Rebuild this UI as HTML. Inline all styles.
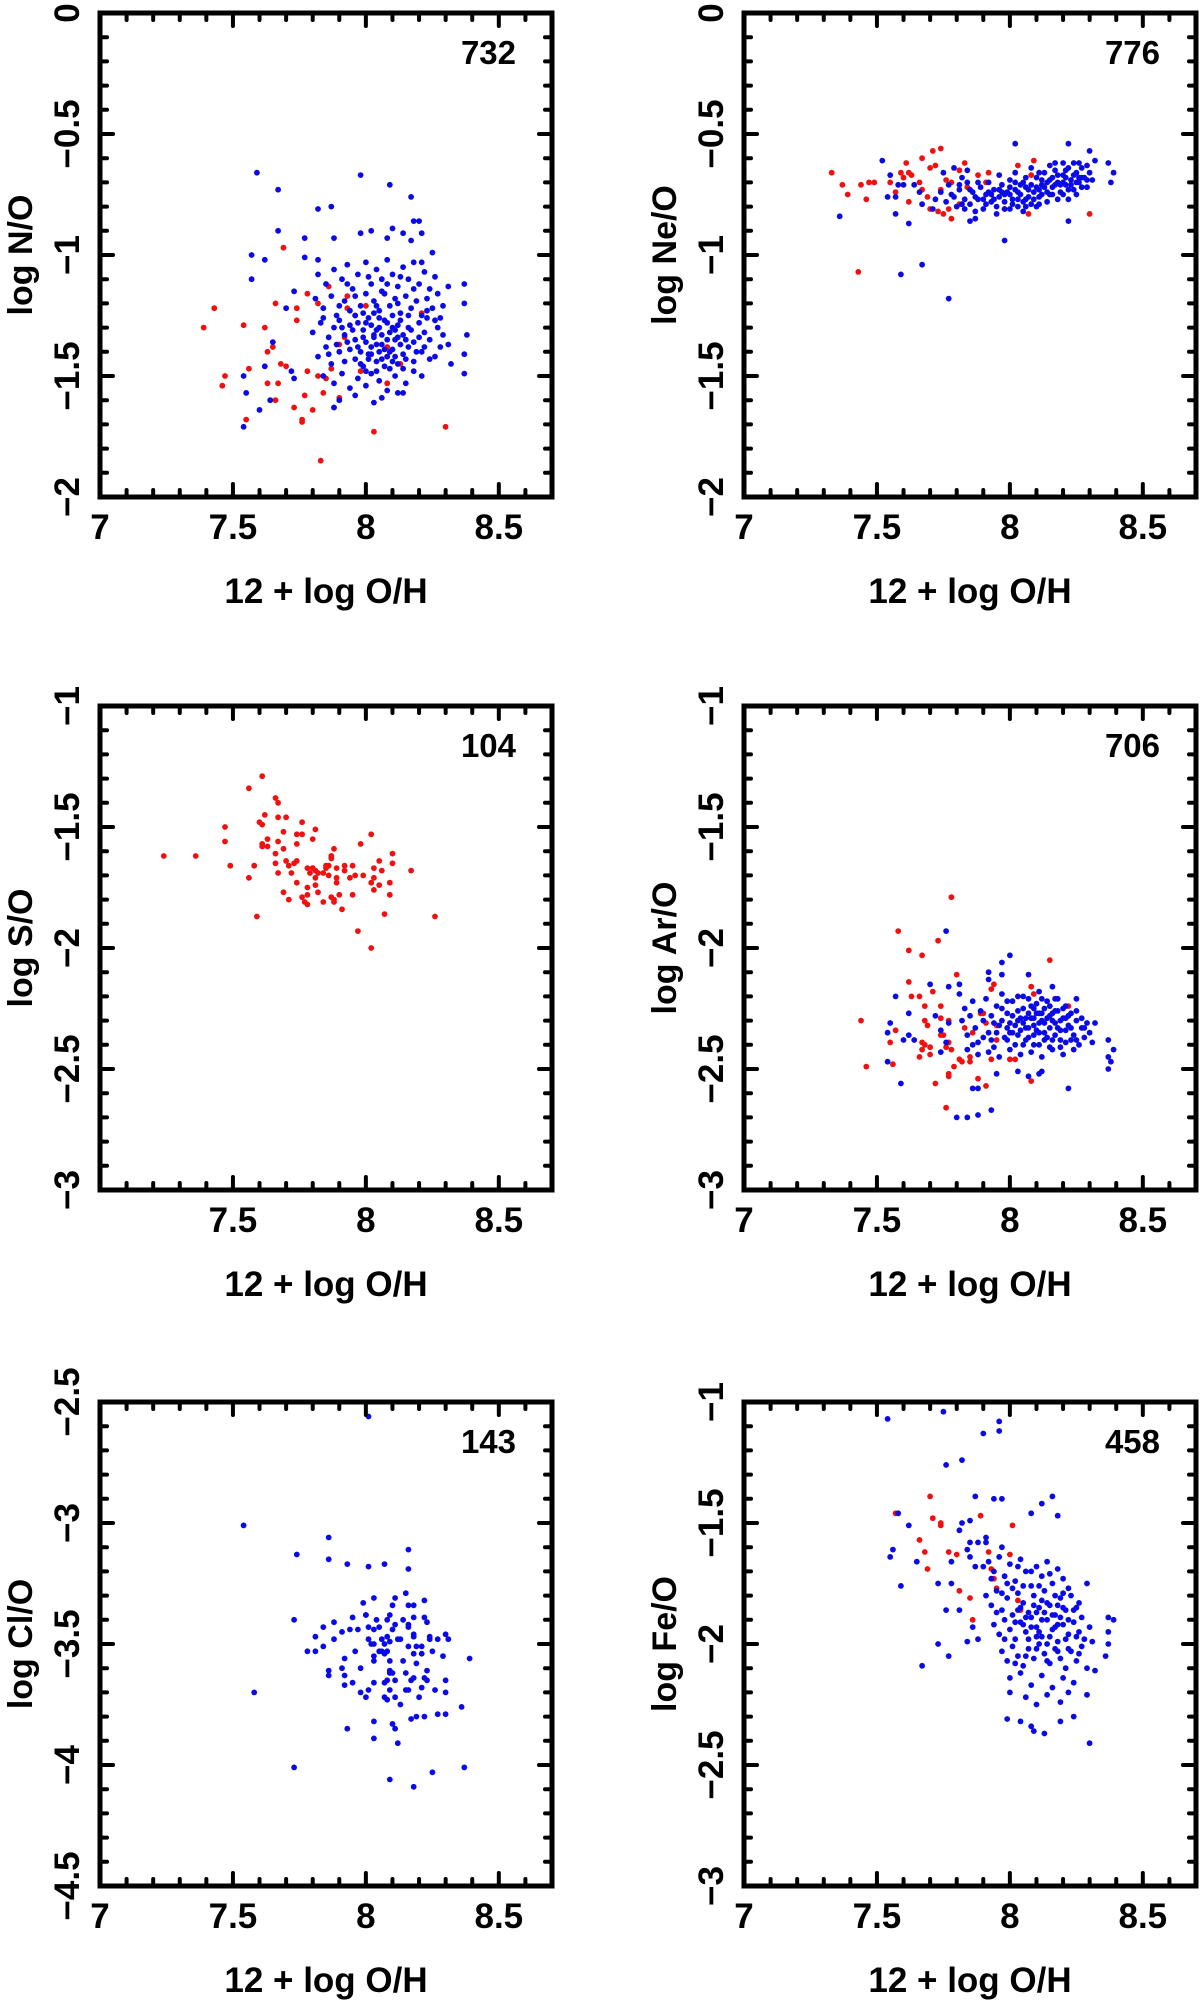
<!DOCTYPE html>
<html><head><meta charset="utf-8"><style>
html,body{margin:0;padding:0;background:#fff;width:1200px;height:2001px;overflow:hidden}
svg{display:block}
text{font-family:"Liberation Sans",Arial,sans-serif;font-weight:bold;fill:#000}
</style></head><body>
<svg id="fig" width="1200" height="2001" viewBox="0 0 1200 2001" xmlns="http://www.w3.org/2000/svg"></svg>
<script>
// ---- data (x = 12 + log O/H, y = log ratio) ----
const noBlue = [[7.59,-0.66],[7.67,-0.73],[7.98,-0.67],[8.09,-0.71],[8.17,-0.76],[7.82,-0.81],[7.87,-0.80],[7.67,-0.90],[7.77,-0.93],[7.88,-0.93],[7.57,-1.00],[7.62,-1.02],[7.57,-1.10],[7.77,-1.01],[7.82,-1.02],[7.98,-0.91],[8.02,-0.90],[8.10,-0.89],[8.18,-0.86],[8.20,-0.86],[8.21,-0.91],[8.25,-0.99],[8.08,-0.93],[8.14,-0.91],[8.17,-0.94],
[7.54,-1.50],[7.54,-1.71],[7.55,-1.57],[7.60,-1.64],[7.62,-1.46],[7.65,-1.36],[7.64,-1.60],[7.73,-1.51],[7.72,-1.48],[7.70,-1.22],[7.73,-1.15],[7.88,-1.63],[8.03,-1.61],[8.14,-1.57],[8.21,-1.50],[8.37,-1.49],[8.37,-1.41],[8.38,-1.33],[8.37,-1.12],[8.37,-1.20],[8.32,-1.45],[8.31,-1.37],[8.29,-1.21],[8.31,-1.13],[8.28,-1.26],
[7.82,-1.08],[7.85,-1.12],[7.88,-1.06],[7.91,-1.10],[7.93,-1.04],[7.95,-1.14],[7.97,-1.08],[8.00,-1.03],[8.02,-1.12],[8.04,-1.06],[8.06,-1.10],[8.08,-1.02],[8.10,-1.08],[8.12,-1.13],[8.14,-1.05],[8.16,-1.10],[8.18,-1.03],[8.20,-1.12],[8.22,-1.07],[8.24,-1.14],[8.26,-1.09],
[7.81,-1.18],[7.84,-1.22],[7.87,-1.17],[7.89,-1.25],[7.92,-1.19],[7.94,-1.23],[7.96,-1.17],[7.98,-1.21],[8.00,-1.16],[8.01,-1.26],[8.03,-1.19],[8.05,-1.23],[8.07,-1.16],[8.09,-1.21],[8.11,-1.18],[8.13,-1.24],[8.15,-1.17],[8.17,-1.22],[8.19,-1.19],[8.21,-1.25],[8.23,-1.18],[8.25,-1.22],[8.27,-1.16],
[7.80,-1.32],[7.83,-1.28],[7.86,-1.34],[7.88,-1.30],[7.90,-1.27],[7.92,-1.33],[7.94,-1.29],[7.96,-1.35],[7.97,-1.28],[7.99,-1.31],[8.00,-1.36],[8.02,-1.29],[8.03,-1.33],[8.05,-1.30],[8.06,-1.37],[8.08,-1.28],[8.09,-1.32],[8.11,-1.35],[8.12,-1.29],[8.14,-1.33],[8.16,-1.30],[8.18,-1.36],[8.20,-1.28],[8.22,-1.32],[8.24,-1.35],[8.27,-1.30],[8.29,-1.33],
[7.82,-1.42],[7.85,-1.38],[7.87,-1.45],[7.90,-1.40],[7.92,-1.44],[7.94,-1.39],[7.96,-1.43],[7.98,-1.40],[7.99,-1.46],[8.01,-1.41],[8.02,-1.38],[8.04,-1.44],[8.05,-1.40],[8.07,-1.46],[8.08,-1.42],[8.10,-1.39],[8.12,-1.45],[8.14,-1.41],[8.16,-1.38],[8.18,-1.44],[8.21,-1.40],[8.24,-1.43],
[7.84,-1.50],[7.88,-1.53],[7.91,-1.49],[7.94,-1.55],[7.97,-1.51],[8.00,-1.54],[8.02,-1.49],[8.05,-1.52],[8.08,-1.56],[8.11,-1.50],[8.15,-1.53],[7.90,-1.60],[7.96,-1.58],[8.06,-1.59],[8.12,-1.57],
[8.03,-1.34],[8.05,-1.26],[8.07,-1.39],[8.10,-1.25],[8.13,-1.37],[7.99,-1.24],[8.01,-1.43],[8.09,-1.47],[8.04,-1.37],[8.11,-1.31],
[7.95,-1.31],[7.97,-1.38],[7.99,-1.34],[8.00,-1.28],[8.02,-1.41],[8.03,-1.24],[8.04,-1.31],[8.06,-1.33],[8.06,-1.43],[8.07,-1.27],[8.08,-1.35],[8.09,-1.40],[8.10,-1.30],[8.11,-1.42],[8.12,-1.34],[8.13,-1.27],[8.15,-1.35],[8.15,-1.43],[8.17,-1.31],[8.19,-1.40],[8.20,-1.34],[8.22,-1.38],[8.23,-1.26],[7.93,-1.36],[7.91,-1.30],[7.89,-1.37],[7.98,-1.45],[8.00,-1.48],[8.04,-1.48],[8.10,-1.44],[8.14,-1.47],[8.18,-1.48],[8.26,-1.42],[8.28,-1.38],[7.86,-1.41],[7.84,-1.26],[7.93,-1.12],[8.01,-1.09],[8.06,-1.15],[8.13,-1.09],[8.18,-1.14],[8.21,-1.03],[8.23,-1.23],[8.12,-1.20],[8.04,-1.21],[7.96,-1.25],[7.90,-1.21],[8.08,-1.12],[8.16,-1.25],[8.26,-1.27]];
const noRed = [[7.43,-1.22],[7.39,-1.30],[7.54,-1.29],[7.62,-1.30],[7.66,-1.20],[7.69,-0.97],[7.47,-1.50],[7.46,-1.54],[7.56,-1.47],[7.55,-1.68],[7.63,-1.40],[7.65,-1.38],[7.68,-1.45],[7.70,-1.46],[7.67,-1.53],[7.63,-1.53],[7.66,-1.60],[7.73,-1.63],[7.76,-1.68],[7.76,-1.69],[7.77,-1.58],[7.80,-1.64],[7.84,-1.57],[7.83,-1.85],[7.88,-1.63],[7.90,-1.59],[8.03,-1.73],[8.30,-1.71],[7.74,-1.22],[7.78,-1.16],[7.82,-1.20],[7.74,-1.27],[7.78,-1.48],[7.82,-1.50],[7.85,-1.51],[7.87,-1.47],[7.90,-1.37],[7.92,-1.34],[7.93,-1.17],[7.93,-1.22],[7.98,-1.48],[8.08,-1.38],[8.08,-1.42],[8.08,-1.53],[8.13,-1.45],[8.07,-1.16],[8.21,-1.24],[8.00,-1.21],[7.86,-1.13],[7.96,-1.25]];

const neBlue = [[7.36,-0.84],[7.52,-0.61],[7.57,-0.83],[7.62,-0.87],[7.59,-1.08],[7.67,-1.04],[7.77,-1.18],[7.98,-0.94],[8.02,-0.54],[8.22,-0.54],[8.30,-0.57],[8.22,-0.86],[8.37,-0.62],[8.39,-0.66],[8.38,-0.70],[8.32,-0.61],[7.85,-0.86],[7.87,-0.85],
[7.55,-0.67],[7.54,-0.76],[7.57,-0.76],[7.58,-0.71],[7.60,-0.71],[7.64,-0.71],[7.66,-0.74],[7.67,-0.79],[7.71,-0.81],[7.72,-0.77],[7.75,-0.66],[7.79,-0.64],[7.82,-0.68],[7.84,-0.65],
[7.74,-0.74],[7.76,-0.78],[7.77,-0.71],[7.79,-0.76],[7.80,-0.80],[7.81,-0.73],[7.83,-0.77],[7.84,-0.70],[7.85,-0.79],[7.86,-0.74],[7.88,-0.77],[7.89,-0.72],[7.90,-0.81],[7.91,-0.75],[7.92,-0.70],[7.93,-0.78],[7.94,-0.73],[7.95,-0.80],[7.96,-0.76],[7.97,-0.71],[7.98,-0.78],[7.99,-0.74],[8.00,-0.69],[8.01,-0.77],[8.02,-0.73],[8.03,-0.80],[8.04,-0.75],[8.05,-0.70],[8.06,-0.77],[8.07,-0.73],[8.08,-0.79],[8.09,-0.74],[8.10,-0.68],[8.11,-0.76],[8.12,-0.71],[8.13,-0.66],[8.14,-0.74],[8.15,-0.69],[8.16,-0.72],[8.17,-0.65],[8.18,-0.70],[8.19,-0.74],[8.20,-0.67],[8.21,-0.71],[8.22,-0.64],[8.23,-0.69],[8.24,-0.73],[8.25,-0.66],[8.26,-0.70],[8.27,-0.64],[8.28,-0.68],[8.29,-0.72],[8.30,-0.66],[8.31,-0.69],
[7.87,-0.82],[7.95,-0.83],[8.00,-0.81],[8.05,-0.82],[8.10,-0.80],[8.14,-0.78],[8.18,-0.77],[8.22,-0.77],[8.25,-0.75],[7.96,-0.67],[8.02,-0.66],[8.08,-0.64],[8.15,-0.63],[8.20,-0.62],[8.24,-0.62],[8.12,-0.75],[8.06,-0.72],[8.00,-0.75],[7.93,-0.75],[8.16,-0.68],[8.22,-0.73],[8.27,-0.72],[8.10,-0.72],[8.03,-0.77],[7.97,-0.74],
[7.78,-0.75],[7.82,-0.79],[7.85,-0.73],[7.87,-0.76],[7.90,-0.77],[7.92,-0.74],[7.94,-0.77],[7.96,-0.73],[7.98,-0.75],[8.00,-0.72],[8.01,-0.79],[8.03,-0.74],[8.04,-0.71],[8.05,-0.78],[8.07,-0.76],[8.08,-0.71],[8.09,-0.77],[8.11,-0.73],[8.12,-0.69],[8.13,-0.72],[8.14,-0.70],[8.15,-0.75],[8.17,-0.71],[8.18,-0.67],[8.19,-0.71],[8.20,-0.70],[8.21,-0.68],[8.23,-0.71],[8.24,-0.67],[8.25,-0.70],[8.26,-0.68],[8.27,-0.68],[8.29,-0.69],[8.20,-0.75],[8.16,-0.75],[8.11,-0.79],[8.06,-0.80],[7.98,-0.81],[7.91,-0.79],[7.83,-0.81],[7.81,-0.71],[7.88,-0.70],[8.02,-0.70],[8.06,-0.68],[8.11,-0.66],[8.17,-0.62],[8.21,-0.65],[8.26,-0.62],[8.29,-0.63]];
const neRed = [[7.33,-0.66],[7.37,-0.71],[7.39,-0.75],[7.44,-0.71],[7.46,-0.77],[7.47,-0.70],[7.49,-0.70],[7.43,-1.07],[7.71,-0.57],[7.74,-0.56],[7.67,-0.60],[7.61,-0.62],[7.59,-0.66],[7.62,-0.66],[7.63,-0.67],[7.60,-0.68],[7.55,-0.70],[7.57,-0.74],[7.62,-0.78],[7.66,-0.70],[7.70,-0.64],[7.72,-0.63],[7.67,-0.73],[7.69,-0.76],[7.70,-0.81],[7.73,-0.82],[7.75,-0.83],[7.78,-0.85],[7.77,-0.81],[7.76,-0.69],[7.78,-0.70],[7.83,-0.62],[7.81,-0.65],[7.88,-0.67],[7.92,-0.66],[8.03,-0.63],[8.09,-0.61],[8.08,-0.67],[7.98,-0.81],[8.07,-0.83],[8.30,-0.83],[7.74,-0.73],[7.84,-0.72],[7.91,-0.70],[7.81,-0.79],[7.94,-0.77]];

const sRed = [[7.24,-1.62],[7.36,-1.62],[7.47,-1.56],[7.47,-1.50],[7.49,-1.66],[7.56,-1.34],[7.56,-1.71],[7.58,-1.66],[7.59,-1.87],[7.61,-1.29],[7.60,-1.48],[7.61,-1.49],[7.62,-1.45],[7.61,-1.57],[7.61,-1.58],[7.63,-1.58],[7.63,-1.55],[7.66,-1.38],[7.67,-1.40],[7.67,-1.46],[7.66,-1.61],[7.66,-1.65],[7.67,-1.56],[7.67,-1.69],[7.69,-1.77],[7.69,-1.59],[7.69,-1.52],[7.70,-1.46],[7.70,-1.64],[7.71,-1.66],[7.71,-1.80],[7.72,-1.69],[7.73,-1.65],[7.74,-1.57],[7.74,-1.53],[7.74,-1.64],[7.74,-1.73],[7.76,-1.48],[7.76,-1.53],[7.76,-1.79],[7.77,-1.81],[7.78,-1.82],[7.78,-1.75],[7.78,-1.78],[7.78,-1.67],[7.79,-1.69],[7.80,-1.67],[7.80,-1.67],[7.80,-1.55],[7.81,-1.74],[7.81,-1.51],[7.81,-1.68],[7.81,-1.71],[7.82,-1.77],[7.82,-1.69],[7.84,-1.81],[7.84,-1.69],[7.85,-1.67],[7.85,-1.66],[7.86,-1.66],[7.86,-1.70],[7.87,-1.63],[7.87,-1.62],[7.87,-1.62],[7.87,-1.79],[7.88,-1.80],[7.88,-1.81],[7.88,-1.59],[7.89,-1.67],[7.89,-1.71],[7.89,-1.73],[7.90,-1.78],[7.91,-1.84],[7.92,-1.66],[7.92,-1.68],[7.94,-1.71],[7.95,-1.78],[7.95,-1.66],[7.96,-1.70],[7.97,-1.93],[7.98,-1.57],[7.99,-1.70],[8.02,-1.53],[8.02,-2.00],[8.02,-1.73],[8.03,-1.76],[8.03,-1.67],[8.03,-1.71],[8.05,-1.74],[8.05,-1.64],[8.06,-1.68],[8.07,-1.86],[8.09,-1.73],[8.09,-1.78],[8.10,-1.61],[8.10,-1.65],[8.17,-1.68],[8.26,-1.87]];
const sBlue = [];

const arRed = [[7.78,-1.79],[7.58,-1.93],[7.73,-1.97],[7.62,-2.01],[7.67,-2.03],[7.80,-2.11],[7.62,-2.14],[7.63,-2.20],[7.66,-2.20],[7.68,-2.24],[7.71,-2.18],[7.74,-2.24],[7.44,-2.30],[7.57,-2.34],[7.55,-2.39],[7.46,-2.49],[7.56,-2.48],[7.68,-2.30],[7.69,-2.32],[7.74,-2.29],[7.77,-2.30],[7.67,-2.39],[7.68,-2.40],[7.70,-2.41],[7.67,-2.42],[7.66,-2.45],[7.70,-2.44],[7.74,-2.36],[7.75,-2.36],[7.76,-2.41],[7.77,-2.39],[7.78,-2.42],[7.81,-2.46],[7.79,-2.49],[7.77,-2.52],[7.77,-2.53],[7.72,-2.56],[7.76,-2.66],[7.82,-2.47],[7.85,-2.45],[7.85,-2.47],[7.88,-2.54],[7.91,-2.57],[7.89,-2.27],[7.90,-2.27],[7.91,-2.31],[7.93,-2.17],[7.94,-2.15],[7.95,-2.32],[7.95,-2.38],[7.93,-2.46],[8.00,-2.46],[8.02,-2.46],[8.08,-2.55],[8.08,-2.16],[8.09,-2.19],[8.15,-2.05],[8.22,-2.24],[7.83,-2.33],[7.86,-2.35]];
const arBlue = [[7.76,-1.93],[8.00,-2.03],[7.97,-2.06],[7.97,-2.11],[7.92,-2.10],[7.92,-2.13],[7.70,-2.15],[7.57,-2.20],[7.62,-2.27],[7.54,-2.35],[7.55,-2.31],[7.54,-2.47],[7.59,-2.56],[7.80,-2.70],[7.84,-2.70],[7.88,-2.69],[7.93,-2.67],[7.86,-2.58],[7.88,-2.58],[8.22,-2.58],[8.37,-2.38],[8.39,-2.42],[8.38,-2.47],[8.37,-2.50],[8.37,-2.45],[8.07,-2.11],[8.16,-2.16],[8.25,-2.21],[7.95,-2.52],[8.03,-2.51],[8.07,-2.53],[8.11,-2.52],[8.12,-2.51],[7.74,-2.43],[7.76,-2.39],[7.77,-2.31],[7.81,-2.19],[7.77,-2.16],[7.81,-2.15],[7.64,-2.38],[7.62,-2.36],[7.60,-2.38],[7.72,-2.28],[7.74,-2.34],
[7.82,-2.30],[7.83,-2.25],[7.84,-2.36],[7.85,-2.28],[7.86,-2.22],[7.87,-2.33],[7.88,-2.39],[7.89,-2.26],[7.90,-2.30],[7.91,-2.21],[7.92,-2.35],[7.93,-2.28],[7.94,-2.41],[7.95,-2.24],[7.96,-2.32],[7.97,-2.19],[7.98,-2.37],[7.99,-2.27],[8.00,-2.31],[8.01,-2.22],[8.02,-2.40],[8.03,-2.26],[8.04,-2.34],[8.05,-2.20],[8.06,-2.29],[8.07,-2.37],[8.08,-2.24],[8.09,-2.32],[8.10,-2.27],[8.11,-2.40],[8.12,-2.21],[8.13,-2.35],[8.14,-2.29],[8.15,-2.24],[8.16,-2.38],[8.17,-2.31],[8.18,-2.26],[8.19,-2.34],[8.20,-2.29],[8.21,-2.39],[8.22,-2.32],[8.23,-2.27],[8.24,-2.36],[8.25,-2.30],[8.26,-2.40],[8.27,-2.33],[8.28,-2.37],[8.29,-2.31],[8.30,-2.35],
[7.84,-2.42],[7.88,-2.44],[7.92,-2.43],[7.96,-2.45],[8.00,-2.42],[8.04,-2.44],[8.08,-2.43],[8.12,-2.45],[8.16,-2.42],[8.20,-2.44],[8.24,-2.42],
[7.97,-2.25],[7.99,-2.33],[8.01,-2.28],[8.03,-2.36],[8.05,-2.25],[8.06,-2.33],[8.07,-2.21],[8.08,-2.29],[8.09,-2.36],[8.10,-2.23],[8.11,-2.31],[8.12,-2.27],[8.13,-2.38],[8.14,-2.22],[8.15,-2.33],[8.16,-2.27],[8.17,-2.36],[8.18,-2.21],[8.19,-2.30],[8.20,-2.25],[8.21,-2.34],[8.22,-2.28],[8.23,-2.38],[8.02,-2.32],[8.04,-2.29],[8.10,-2.34],[8.14,-2.37],[8.18,-2.33],[8.06,-2.38],[7.94,-2.31],[7.90,-2.37],[7.86,-2.40],[8.00,-2.35],[8.12,-2.30],[8.16,-2.30],
[8.05,-2.31],[8.07,-2.27],[8.09,-2.25],[8.11,-2.35],[8.13,-2.31],[8.15,-2.28],[8.17,-2.26],[8.19,-2.38],[8.21,-2.29],[8.23,-2.33],[8.25,-2.26],[8.27,-2.29],[8.13,-2.25],[8.11,-2.27],[8.09,-2.29],[8.07,-2.33],[8.03,-2.30],[8.01,-2.35],[7.99,-2.38],[7.97,-2.30],[7.95,-2.35],[7.93,-2.38],[8.15,-2.41],[8.19,-2.41],[8.09,-2.40],[8.05,-2.40],[8.21,-2.24],[8.17,-2.21],[8.11,-2.18],[8.03,-2.20],[7.99,-2.22],[8.25,-2.38],[8.28,-2.33],[8.31,-2.39],[8.32,-2.31]];

const clBlue = [[8.01,-2.56],[7.54,-3.01],[7.58,-3.70],[7.73,-4.01],[7.74,-3.13],[7.86,-3.06],[7.86,-3.15],[7.93,-3.17],[8.01,-3.18],[8.07,-3.17],[8.16,-3.11],[8.16,-3.19],[8.15,-3.29],[8.22,-3.32],[8.03,-3.31],[7.99,-3.33],[8.10,-3.34],[8.11,-3.31],[8.16,-3.34],[8.18,-3.34],[7.73,-3.40],[7.84,-3.43],[7.88,-3.41],[7.91,-3.45],[7.95,-3.39],[7.94,-3.44],[7.97,-3.44],[8.00,-3.38],[8.00,-3.38],[8.01,-3.43],[8.03,-3.44],[8.04,-3.40],[8.05,-3.43],[8.08,-3.40],[8.09,-3.38],[8.10,-3.44],[8.11,-3.42],[8.14,-3.40],[8.16,-3.42],[8.16,-3.43],[8.18,-3.39],[8.22,-3.39],[8.23,-3.41],[7.81,-3.47],[7.88,-3.48],[8.01,-3.48],[8.02,-3.50],[8.03,-3.50],[8.06,-3.48],[8.07,-3.50],[8.08,-3.47],[8.09,-3.49],[8.12,-3.48],[8.13,-3.48],[8.18,-3.46],[8.18,-3.47],[8.24,-3.47],[8.24,-3.48],[8.27,-3.48],[8.30,-3.46],[8.31,-3.48],[7.78,-3.53],[7.81,-3.53],[7.84,-3.51],[7.96,-3.53],[8.05,-3.53],[8.06,-3.53],[8.07,-3.54],[8.08,-3.53],[8.16,-3.51],[8.19,-3.51],[8.21,-3.51],[8.25,-3.53],[7.92,-3.56],[8.03,-3.55],[8.03,-3.57],[8.09,-3.57],[8.14,-3.57],[8.18,-3.54],[8.21,-3.54],[8.29,-3.55],[8.39,-3.56],[7.86,-3.61],[7.86,-3.63],[7.91,-3.60],[7.92,-3.63],[7.98,-3.60],[8.09,-3.61],[8.09,-3.62],[8.10,-3.62],[8.15,-3.62],[8.19,-3.58],[8.23,-3.61],[8.22,-3.64],[8.23,-3.65],[8.18,-3.64],[8.17,-3.65],[8.08,-3.65],[8.07,-3.66],[8.03,-3.66],[8.11,-3.65],[7.92,-3.67],[7.95,-3.66],[8.30,-3.65],[8.30,-3.70],[8.26,-3.69],[8.21,-3.68],[8.20,-3.72],[8.16,-3.69],[8.15,-3.69],[8.09,-3.69],[8.07,-3.72],[8.08,-3.73],[8.11,-3.72],[8.13,-3.75],[8.00,-3.72],[7.98,-3.70],[8.01,-3.69],[8.36,-3.76],[8.03,-3.82],[8.10,-3.83],[8.11,-3.85],[8.17,-3.81],[8.19,-3.80],[8.22,-3.80],[8.27,-3.79],[8.30,-3.79],[7.93,-3.85],[8.03,-3.89],[8.12,-3.91],[8.09,-4.06],[8.18,-4.09],[8.25,-4.03],[8.37,-4.01]];
const clRed = [];

const feRed = [[7.57,-1.46],[7.70,-1.39],[7.71,-1.48],[7.74,-1.50],[7.74,-1.51],[7.66,-1.57],[7.68,-1.62],[7.69,-1.69],[7.77,-1.62],[7.80,-1.63],[7.89,-1.47],[7.92,-1.62],[7.93,-1.69],[7.94,-1.73],[7.95,-1.77],[7.81,-1.78],[7.85,-1.81],[7.86,-1.90],[8.01,-1.51],[8.00,-1.63],[8.03,-1.82],[8.04,-1.86]];
const feBlue = [[7.54,-1.07],[7.75,-1.04],[7.96,-1.08],[7.96,-1.12],[7.90,-1.13],[7.76,-1.26],[7.82,-1.24],[7.58,-1.46],[7.56,-1.61],[7.55,-1.64],[7.62,-1.51],[7.59,-1.76],[7.65,-1.66],[7.67,-2.09],[7.73,-2.00],[7.77,-2.05],[7.73,-1.75],[7.76,-1.86],[7.78,-1.75],[7.87,-1.39],[7.94,-1.40],[7.97,-1.40],[8.08,-1.46],[8.12,-1.42],[8.16,-1.39],[8.18,-1.47],[8.29,-1.75],[8.30,-2.41],[8.24,-2.30],[8.19,-2.32],[8.13,-2.37],[8.09,-2.36],[8.08,-2.34],[8.04,-2.32],[7.99,-2.31],[8.37,-1.89],[8.39,-1.90],[8.37,-1.95],[8.37,-2.00],[8.36,-2.05],[8.32,-2.11],[8.29,-2.21],[8.29,-2.10],[8.31,-1.99],[7.84,-1.99],[7.88,-1.98],[7.86,-1.93],[7.81,-1.86],[7.78,-1.66],[7.82,-1.50],[7.81,-1.53],[7.85,-1.49],[7.85,-1.58],[7.84,-1.61],[7.85,-1.64],[7.88,-1.58],[7.87,-1.68],[7.91,-1.58],[7.91,-1.56],
[7.92,-1.66],[7.94,-1.70],[7.96,-1.64],[7.98,-1.72],[8.00,-1.67],[8.02,-1.74],[8.04,-1.65],[8.06,-1.70],[8.08,-1.76],[8.10,-1.68],[8.12,-1.72],[8.14,-1.66],[8.16,-1.75],[8.18,-1.69],[8.20,-1.73],[8.22,-1.77],
[7.91,-1.80],[7.93,-1.84],[7.95,-1.78],[7.97,-1.86],[7.99,-1.81],[8.01,-1.88],[8.03,-1.79],[8.05,-1.83],[8.07,-1.87],[8.09,-1.80],[8.11,-1.85],[8.13,-1.78],[8.15,-1.84],[8.17,-1.88],[8.19,-1.81],[8.21,-1.86],[8.23,-1.80],[8.25,-1.85],[8.27,-1.89],
[7.94,-1.92],[7.96,-1.96],[7.98,-1.90],[8.00,-1.94],[8.02,-1.98],[8.04,-1.91],[8.06,-1.95],[8.08,-1.89],[8.10,-1.93],[8.12,-1.97],[8.14,-1.90],[8.16,-1.94],[8.18,-1.99],[8.20,-1.92],[8.22,-1.96],[8.24,-1.91],[8.26,-1.95],[8.28,-1.98],
[7.97,-2.03],[7.99,-2.07],[8.01,-2.01],[8.03,-2.05],[8.05,-2.09],[8.07,-2.02],[8.09,-2.06],[8.11,-2.00],[8.13,-2.04],[8.15,-2.08],[8.17,-2.02],[8.19,-2.06],[8.21,-2.10],[8.23,-2.03],[8.25,-2.07],[8.27,-2.01],
[8.00,-2.14],[8.04,-2.12],[8.08,-2.17],[8.12,-2.13],[8.16,-2.18],[8.20,-2.14],[8.24,-2.16],[8.06,-2.22],[8.14,-2.21],[8.19,-2.24],
[8.05,-1.92],[8.09,-1.84],[8.11,-1.95],[8.13,-1.87],[8.15,-1.97],[8.17,-1.93],[8.07,-1.98],[8.03,-1.86],[8.19,-1.89],[8.21,-1.98],[8.01,-1.77],[7.99,-1.75],[8.17,-1.80],[8.10,-2.02],[8.12,-1.82],[8.14,-2.00],[8.02,-1.91],[8.18,-1.84],
[8.04,-1.85],[8.06,-1.89],[8.08,-1.93],[8.10,-1.87],[8.12,-1.90],[8.14,-1.83],[8.16,-1.88],[8.18,-1.92],[8.20,-1.85],[8.22,-1.90],[8.24,-1.86],[8.26,-1.83],[8.10,-1.97],[8.06,-2.05],[8.02,-2.08],[8.14,-2.07],[8.18,-2.03],[8.22,-2.02],[8.26,-2.04],[8.30,-1.93],[7.98,-1.98],[7.95,-1.87],[7.97,-1.79],[8.05,-1.76],[8.11,-1.76],[8.15,-1.71],[8.20,-1.79],[7.93,-1.73],[7.90,-1.68],[7.97,-1.60],[8.03,-1.68],[8.08,-1.70],[8.00,-2.20],[8.10,-2.25],[8.22,-2.20],[8.25,-1.97]];

const panelTitles = ["log N/O","log Ne/O","log S/O","log Ar/O","log Cl/O","log Fe/O"];
const panelCounts = ["732","776","104","706","143","458"];
const yTops = [0,0,-1,-1,-2.5,-1];
const yMajorLabels = [["0","−0.5","−1","−1.5","−2"],["0","−0.5","−1","−1.5","−2"],["−1","−1.5","−2","−2.5","−3"],["−1","−1.5","−2","−2.5","−3"],["−2.5","−3","−3.5","−4","−4.5"],["−1","−1.5","−2","−2.5","−3"]];
const xTickValues = [7,7.5,8,8.5];
const xTickLabels = ["7","7.5","8","8.5"];
const blueSets = [noBlue,neBlue,sBlue,arBlue,clBlue,feBlue];
const redSets = [noRed,neRed,sRed,arRed,clRed,feRed];
const panelNames = ["n-o","ne-o","s-o","ar-o","cl-o","fe-o"];

// ---- layout ----
const NS = "http://www.w3.org/2000/svg";
const svg = document.getElementById('fig');
const colLeft = [100,744], rowTop = [13,706,1402];
const W = 452, H = 484, XMIN = 7, XMAX = 8.7, YSPAN = 2;
function mk(tag, attrs, parent){const e=document.createElementNS(NS,tag);for(const k in attrs)e.setAttribute(k,attrs[k]);parent.appendChild(e);return e;}

for (let p=0;p<6;p++){
  const L = colLeft[p%2], T = rowTop[Math.floor(p/2)];
  const top = yTops[p];
  const sx = v => L + (v-XMIN)/(XMAX-XMIN)*W;
  const sy = v => T + (top - v)/YSPAN*H;
  const g = mk('g',{},svg);
  
  

  const pts = mk('g',{},g);
  
  
  redSets[p].forEach(d=>{
    const c = mk('circle',{cx:sx(d[0]).toFixed(1),cy:sy(d[1]).toFixed(1),r:2.9,fill:'#f01010'},pts);
    
    
  });
  blueSets[p].forEach(d=>{
    const c = mk('circle',{cx:sx(d[0]).toFixed(1),cy:sy(d[1]).toFixed(1),r:2.9,fill:'#0a0ae8'},pts);
    
    
  });

  const tk = mk('g',{stroke:'#000','stroke-width':4,'stroke-linecap':'round'},g);
  
  
  for (let i=1;i<17;i++){
    const v = XMIN + i*0.1, x = sx(v), len = (i%5===0)?13:7;
    mk('line',{x1:x,y1:T+H,x2:x,y2:T+H-len},tk);
    mk('line',{x1:x,y1:T,x2:x,y2:T+len},tk);
  }
  for (let i=1;i<20;i++){
    const y = T + i*H/20, len = (i%5===0)?13:7;
    mk('line',{x1:L,y1:y,x2:L+len,y2:y},tk);
    mk('line',{x1:L+W,y1:y,x2:L+W-len,y2:y},tk);
  }
  const frame = mk('rect',{x:L,y:T,width:W,height:H,fill:'none',stroke:'#000','stroke-width':5},g);
  
  

  xTickValues.forEach((v,i)=>{
    if (p===2 && v===7) return;
    const t = mk('text',{x:sx(v),y:T+H+42,'font-size':35,'text-anchor':'middle'},g);
    t.textContent = xTickLabels[i];
    
    
  });
  yMajorLabels[p].forEach((s,i)=>{
    const y = T + i*H/4, x = L-21;
    const t = mk('text',{x:x,y:y,'font-size':35,'text-anchor':'middle',transform:`rotate(-90 ${x} ${y})`},g);
    t.textContent = s;
    
    
  });
  const xt = mk('text',{x:sx(7.85),y:T+H+106,'font-size':35,'text-anchor':'middle'},g);
  xt.textContent = "12 + log O/H";
  
  
  const yx = L-68, yy = T+H/2;
  const yt = mk('text',{x:yx,y:yy,'font-size':34,'text-anchor':'middle',transform:`rotate(-90 ${yx} ${yy})`},g);
  yt.textContent = panelTitles[p];
  
  
  const ct = mk('text',{x:L+W-36,y:T+51,'font-size':33,'text-anchor':'end'},g);
  ct.textContent = panelCounts[p];
  
  
}
</script>
</body></html>
